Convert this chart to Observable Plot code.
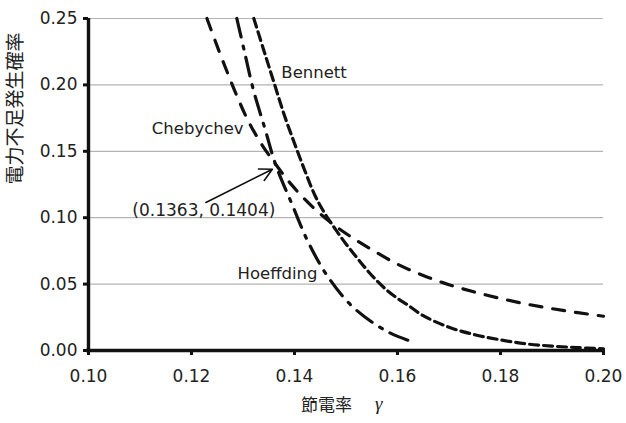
<!DOCTYPE html>
<html>
<head>
<meta charset="utf-8">
<script src="https://cdn.jsdelivr.net/npm/d3@7"></script>
<script src="https://cdn.jsdelivr.net/npm/@observablehq/plot@0.6"></script>
<style>
  html, body { margin: 0; padding: 0; background: #fff; }
  svg { display: block; }
</style>
</head>
<body>
<div id="chart"></div>
<script>
// ---- Data ----
const chebX = [0.1230, 0.1250, 0.1270, 0.1290, 0.1310, 0.1335, 0.1363, 0.1395, 0.1430, 0.1470, 0.1510, 0.1550, 0.1600, 0.1650, 0.1700, 0.1750, 0.1800, 0.1850, 0.1900, 0.1950, 0.2000];
const chebY = [0.250, 0.229, 0.209, 0.190, 0.173, 0.156, 0.1404, 0.1245, 0.110, 0.0965, 0.0855, 0.0760, 0.0650, 0.0565, 0.0495, 0.0440, 0.0392, 0.0350, 0.0315, 0.0285, 0.0258];

const hoefX = [0.1288, 0.1303, 0.1320, 0.1343, 0.1363, 0.1396, 0.1427, 0.1466, 0.1515, 0.1581, 0.1635];
const hoefY = [0.250, 0.2248, 0.1965, 0.1665, 0.1404, 0.1093, 0.0813, 0.0549, 0.0322, 0.0141, 0.0058];

const benX = [0.1321, 0.1340, 0.1360, 0.1380, 0.1400, 0.1420, 0.1440, 0.1460, 0.1480, 0.1500, 0.1520, 0.1540, 0.1560, 0.1580, 0.1600, 0.1620, 0.1650, 0.1700, 0.1750, 0.1800, 0.1850, 0.1900, 0.1950, 0.2000];
const benY = [0.2500, 0.2265, 0.2020, 0.1775, 0.1560, 0.1355, 0.1165, 0.1025, 0.0910, 0.0802, 0.0705, 0.0610, 0.0525, 0.0452, 0.0392, 0.0342, 0.0262, 0.0175, 0.0119, 0.0080, 0.0050, 0.0033, 0.0022, 0.0012];

const xTicks = [0.10, 0.12, 0.14, 0.16, 0.18, 0.20];
const yTicks = [0.00, 0.05, 0.10, 0.15, 0.20, 0.25];

const seriesNames = ["Bennett", "Chebychev", "Hoeffding"];
const seriesLabelX = [0.1438, 0.1212, 0.1367];
const seriesLabelY = [0.2094, 0.1667, 0.0575];

const crossLabel = ["(0.1363, 0.1404)"];
const crossLabelX = [0.1224];
const crossLabelY = [0.1055];
// arrow from label to the crossing point
const arrowFrom = [0.1228, 0.1115];
const arrowTo = [0.1357, 0.1365];

const xTitle = "節電率";
const xTitleSym = "γ";
const yTitle = "電力不足発生確率";

// ---- Build tables ----
const toRows = (xs, ys) => xs.map((x, i) => ({x, y: ys[i]}));
const cheb = toRows(chebX, chebY);
const hoef = toRows(hoefX, hoefY);
const ben = toRows(benX, benY);
const seriesLabels = seriesNames.map((n, i) => ({n, x: seriesLabelX[i], y: seriesLabelY[i]}));
const crossLabels = crossLabel.map((t, i) => ({t, x: crossLabelX[i], y: crossLabelY[i]}));
const arrows = [{x1: arrowFrom[0], y1: arrowFrom[1], x2: arrowTo[0], y2: arrowTo[1]}];

const FONT = "DejaVu Sans, sans-serif";
const lineW = 3.2;

const chart = Plot.plot({
  width: 626,
  height: 423,
  marginLeft: 88,
  marginRight: 23,
  marginTop: 18,
  marginBottom: 73,
  style: {fontFamily: FONT, background: "#fff", color: "#222"},
  x: {domain: [0.10, 0.20], axis: null},
  y: {domain: [0, 0.25], axis: null},
  marks: [
    Plot.ruleY(yTicks.filter(d => d > 0), {stroke: "#b4b4b4", strokeWidth: 1.2}),
    Plot.line(cheb, {x: "x", y: "y", curve: "catmull-rom", stroke: "#111", strokeWidth: lineW, strokeDasharray: "12,11"}),
    Plot.line(ben, {x: "x", y: "y", curve: "catmull-rom", stroke: "#111", strokeWidth: lineW, strokeDasharray: "9,5"}),
    Plot.line(hoef, {x: "x", y: "y", curve: "catmull-rom", stroke: "#111", strokeWidth: lineW, strokeDasharray: "19,9,3,9"}),
    Plot.axisX(xTicks, {tickSize: 5, tickPadding: 14, strokeWidth: 3, stroke: "#111", fontSize: 17, tickFormat: d3.format(".2f"), label: null}),
    Plot.axisY(yTicks, {tickSize: 5, tickPadding: 6, strokeWidth: 3, stroke: "#111", fontSize: 17, tickFormat: d3.format(".2f"), label: null}),
    Plot.ruleX([0.10], {y1: 0, y2: 0.25, stroke: "#111", strokeWidth: 3.4}),
    Plot.ruleY([0], {x1: 0.0996, x2: 0.20, stroke: "#111", strokeWidth: 3.4}),
    Plot.text(seriesLabels, {x: "x", y: "y", text: "n", fontSize: 16.5, fill: "#222", textAnchor: "middle"}),
    Plot.text(crossLabels, {x: "x", y: "y", text: "t", fontSize: 17, fill: "#222", textAnchor: "middle"}),
    Plot.arrow(arrows, {x1: "x1", y1: "y1", x2: "x2", y2: "y2", stroke: "#111", strokeWidth: 1.6, headLength: 13, headAngle: 55}),
    Plot.text([yTitle], {frameAnchor: "left", rotate: -90, dx: -73, fontSize: 19, fill: "#222", fontFamily: "Noto Sans CJK JP", style: "letter-spacing:1.5px"}),
    Plot.text([xTitle], {frameAnchor: "bottom", dy: 60, dx: 6, textAnchor: "end", fontSize: 17, fill: "#222", fontFamily: "Noto Sans CJK JP"}),
    Plot.text([xTitleSym], {frameAnchor: "bottom", dy: 59, dx: 29, textAnchor: "start", fontSize: 19, fill: "#222", fontFamily: "Liberation Serif", fontStyle: "italic"})
  ]
});
document.getElementById("chart").appendChild(chart);
</script>
</body>
</html>
